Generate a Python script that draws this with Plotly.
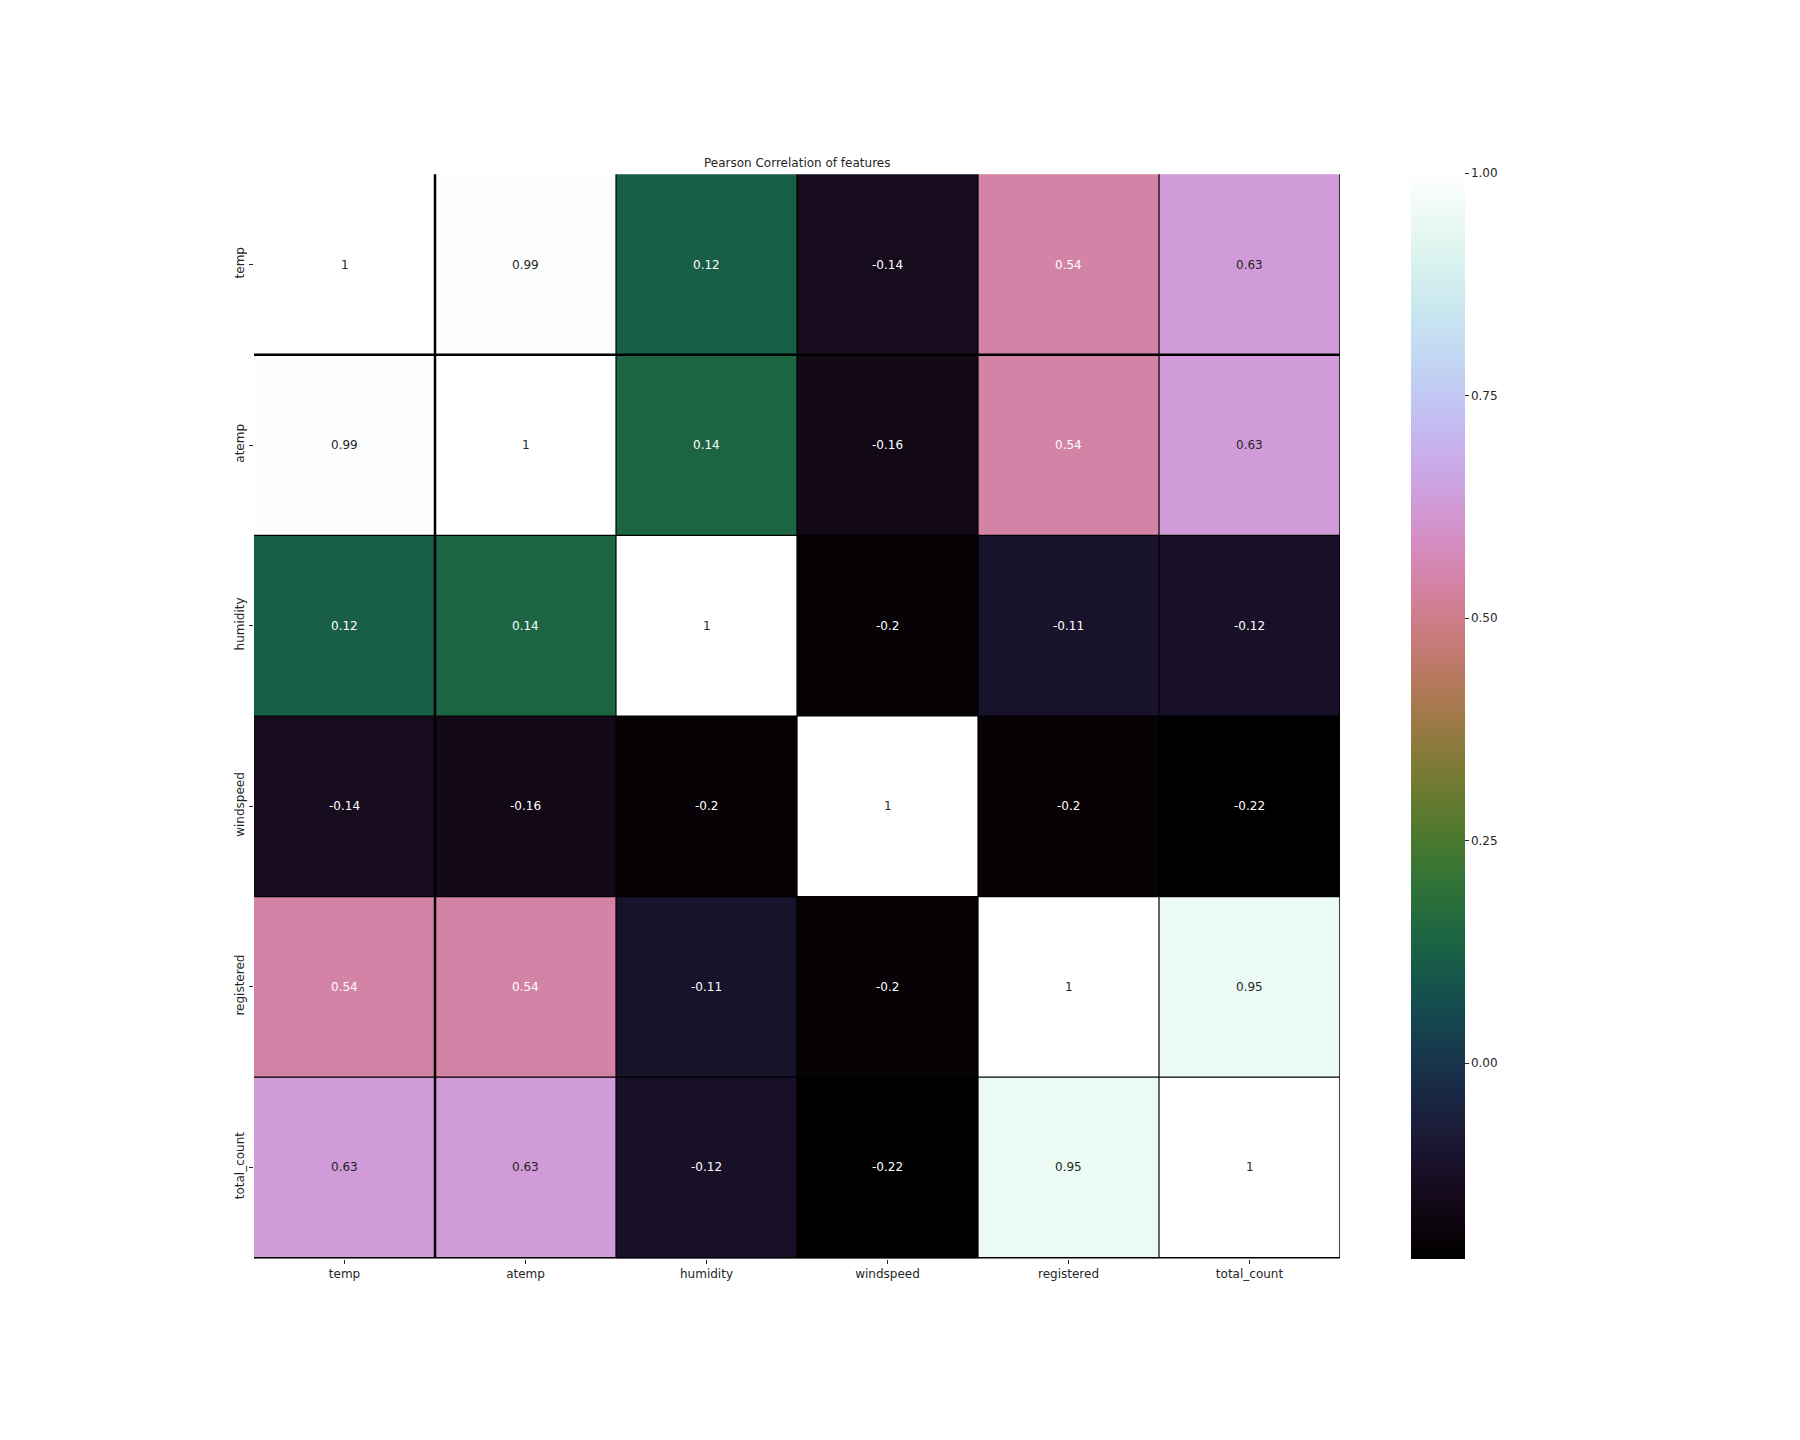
import numpy as np
import plotly.graph_objects as go

features = ["temp", "atemp", "humidity", "windspeed", "registered", "total_count"]
row_temp = [1.0, 0.99, 0.12, -0.14, 0.54, 0.63]
row_atemp = [0.99, 1.0, 0.14, -0.16, 0.54, 0.63]
row_humidity = [0.12, 0.14, 1.0, -0.2, -0.11, -0.12]
row_windspeed = [-0.14, -0.16, -0.2, 1.0, -0.2, -0.22]
row_registered = [0.54, 0.54, -0.11, -0.2, 1.0, 0.95]
row_total_count = [0.63, 0.63, -0.12, -0.22, 0.95, 1.0]
colorbar_ticks = [0.0, 0.25, 0.5, 0.75, 1.0]

z = np.array([row_temp, row_atemp, row_humidity, row_windspeed, row_registered, row_total_count])
zmin, zmax = float(z.min()), float(z.max())


# matplotlib "cubehelix" colormap
def cubehelix(x, gamma=1.0, s=0.5, r=-1.5, h=1.0):
    def ch(p0, p1):
        xg = x ** gamma
        a = h * xg * (1 - xg) / 2
        phi = 2 * np.pi * (s / 3 + r * x)
        return np.clip(xg + a * (p0 * np.cos(phi) + p1 * np.sin(phi)), 0, 1)
    return ch(-0.14861, 1.78277), ch(-0.29227, -0.90649), ch(1.97294, 0.0)


xs = np.linspace(0, 1, 256)
R, G, B = cubehelix(xs)
colorscale = [[float(t), "rgb(%d,%d,%d)" % (round(r * 255), round(g * 255), round(b * 255))]
              for t, r, g, b in zip(xs, R, G, B)]


def lum(v):
    t = (v - zmin) / (zmax - zmin)
    rgb = np.array(cubehelix(np.array([t]))).flatten()
    lin = np.where(rgb <= 0.03928, rgb / 12.92, ((rgb + 0.055) / 1.055) ** 2.4)
    return 0.2126 * lin[0] + 0.7152 * lin[1] + 0.0722 * lin[2]


FONT = "DejaVu Sans"
TXT = "#262626"

fig = go.Figure(go.Heatmap(
    z=z, x=features, y=features,
    zmin=zmin, zmax=zmax, colorscale=colorscale,
    hoverinfo="skip",
    colorbar=dict(
        x=(1411 - 254) / 1086, xanchor="left", xpad=0,
        y=0.5, yanchor="middle", len=1, lenmode="fraction", ypad=0,
        thickness=54, thicknessmode="pixels", outlinewidth=0,
        tickvals=colorbar_ticks, tickformat=".2f",
        ticks="outside", ticklen=4, tickwidth=1, tickcolor=TXT,
        tickfont=dict(family=FONT, size=12, color=TXT),
    ),
))

annotations = []
for i, rname in enumerate(features):
    for j, cname in enumerate(features):
        v = z[i, j]
        col = TXT if lum(v) > 0.408 else "white"
        annotations.append(dict(x=cname, y=rname, xref="x", yref="y", text=format(v, ".2g"),
                                showarrow=False, font=dict(family=FONT, size=12, color=col)))
annotations.append(dict(x=0.5, y=1, xref="paper", yref="paper", xanchor="center", yanchor="bottom",
                        yshift=1, text="Pearson Correlation of features", showarrow=False,
                        font=dict(family=FONT, size=12, color=TXT)))

shapes = []
n = len(features)
for k in range(1, n):
    w = 2.5 if k == 1 else 1.2
    shapes.append(dict(type="line", xref="x", yref="y", x0=k - 0.5, x1=k - 0.5, y0=-0.5, y1=n - 0.5,
                       line=dict(color="black", width=w), layer="above"))
    shapes.append(dict(type="line", xref="x", yref="y", x0=-0.5, x1=n - 0.5, y0=k - 0.5, y1=k - 0.5,
                       line=dict(color="black", width=w), layer="above"))
shapes.append(dict(type="line", xref="x", yref="y", x0=n - 0.5, x1=n - 0.5, y0=-0.5, y1=n - 0.5,
                   line=dict(color="black", width=1.5), layer="above"))
shapes.append(dict(type="line", xref="x", yref="y", x0=-0.5, x1=n - 0.5, y0=n - 0.5, y1=n - 0.5,
                   line=dict(color="black", width=1.5), layer="above"))

fig.update_layout(
    width=1800, height=1440,
    margin=dict(l=254, r=460, t=173, b=181, autoexpand=False),
    paper_bgcolor="white", plot_bgcolor="white",
    font=dict(family=FONT, size=12, color=TXT),
    annotations=annotations, shapes=shapes,
    xaxis=dict(showgrid=False, zeroline=False, ticks="outside", ticklen=4, tickcolor=TXT,
               tickfont=dict(family=FONT, size=12, color=TXT), tickangle=0,
               range=[-0.5, n - 0.5], constrain="domain"),
    yaxis=dict(showgrid=False, zeroline=False, ticks="outside", ticklen=4, tickcolor=TXT,
               tickfont=dict(family=FONT, size=12, color=TXT), tickangle=-90,
               autorange="reversed"),
)

fig.write_html("out.html")
